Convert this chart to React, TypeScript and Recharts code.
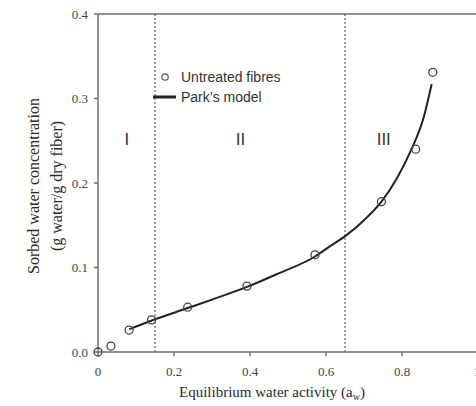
import React from 'react';
import {
  ComposedChart,
  Line,
  Scatter,
  XAxis,
  YAxis,
  ReferenceLine,
  ReferenceDot,
  Legend
} from 'recharts';

// Measured sorption data (untreated fibres)
const measuredActivity = [0, 0.034, 0.082, 0.141, 0.236, 0.392, 0.571, 0.746, 0.836, 0.881];
const measuredSorption = [0, 0.007, 0.026, 0.038, 0.053, 0.078, 0.115, 0.178, 0.24, 0.331];

// Park's model curve
const modelActivity = [0.082, 0.14, 0.236, 0.3, 0.392, 0.47, 0.571, 0.61, 0.653, 0.7, 0.746, 0.786, 0.825, 0.856, 0.878];
const modelSorption = [0.027, 0.037, 0.052, 0.062, 0.077, 0.092, 0.113, 0.125, 0.138, 0.156, 0.178, 0.205, 0.24, 0.276, 0.317];

// Region boundaries and labels
const regionBounds = [0.15, 0.65];
const regionNames = ['I', 'II', 'III'];
const regionLabelX = [0.076, 0.375, 0.752];
const regionLabelY = 0.252;

const xTicks = [0, 0.2, 0.4, 0.6, 0.8, 1];
const yTicks = [0, 0.1, 0.2, 0.3, 0.4];

const measured = measuredActivity.map((x, i) => ({ x, y: measuredSorption[i] }));
const model = modelActivity.map((x, i) => ({ x, y: modelSorption[i] }));

const serif = '"Liberation Serif", "Times New Roman", serif';
const sans = '"Liberation Sans", Arial, sans-serif';
const axisColor = '#6e6e6e';

const XTitle = ({ viewBox }: any) => (
  <text
    x={viewBox.x + viewBox.width / 2 - 16}
    y={viewBox.y + 45}
    textAnchor="middle"
    fontFamily={serif}
    fontSize={15}
    fill="#2a2a2a"
  >
    Equilibrium water activity (a
    <tspan fontSize={10} dy={3}>w</tspan>
    <tspan dy={-3}>)</tspan>
  </text>
);

const YTitle = ({ viewBox }: any) => {
  const cy = viewBox.y + viewBox.height / 2 + 3;
  return (
    <g fontFamily={serif} fontSize={16} fill="#2a2a2a">
      <text transform={`translate(33 ${cy}) rotate(-90)`} textAnchor="middle" dy="0.35em">
        Sorbed water concentration
      </text>
      <text transform={`translate(56 ${cy}) rotate(-90)`} textAnchor="middle" dy="0.35em">
        (g water/g dry fiber)
      </text>
    </g>
  );
};

const LegendBox = () => (
  <svg width={140} height={36} style={{ display: 'block' }}>
    <circle cx={15} cy={9} r={3.2} fill="none" stroke="#555" strokeWidth={1.2} />
    <text x={31} y={9} dy="0.35em" fontFamily={sans} fontSize={14} fill="#333">
      Untreated fibres
    </text>
    <line x1={3} x2={26} y1={29} y2={29} stroke="#222" strokeWidth={3} />
    <text x={31} y={29} dy="0.35em" fontFamily={sans} fontSize={14} fill="#333">
      Park’s model
    </text>
  </svg>
);

const OpenCircle = ({ cx, cy }: any) => (
  <circle cx={cx} cy={cy} r={4} fill="none" stroke="#444" strokeWidth={1.3} />
);

export default function App() {
  return (
    <div
      style={{
        position: 'absolute',
        left: 0,
        top: 0,
        width: 476,
        height: 406,
        overflow: 'hidden',
        background: '#fff'
      }}
    >
      <ComposedChart width={480} height={406} margin={{ top: 14, right: 2, bottom: 0, left: 0 }}>
        <XAxis
          type="number"
          dataKey="x"
          domain={[0, 1]}
          ticks={xTicks}
          tickFormatter={(v: number) => (v === 0 || v === 1 ? String(v) : v.toFixed(1))}
          height={54}
          tickSize={4}
          tickMargin={11}
          stroke={axisColor}
          strokeWidth={1.5}
          tick={{ fontFamily: serif, fontSize: 13, fill: '#444' }}
          label={<XTitle />}
        />
        <YAxis
          type="number"
          dataKey="y"
          domain={[0, 0.4]}
          ticks={yTicks}
          tickFormatter={(v: number) => v.toFixed(1)}
          width={98}
          tickSize={4}
          tickMargin={6}
          stroke={axisColor}
          strokeWidth={1.5}
          tick={{ fontFamily: serif, fontSize: 13, fill: '#444' }}
          label={<YTitle />}
        />
        <ReferenceLine y={0.4} stroke={axisColor} strokeWidth={1.5} />
        {regionBounds.map((b) => (
          <ReferenceLine key={b} x={b} stroke="#444" strokeWidth={1} strokeDasharray="2 2" />
        ))}
        {regionNames.map((name, i) => (
          <ReferenceDot
            key={name}
            x={regionLabelX[i]}
            y={regionLabelY}
            r={0}
            stroke="none"
            fill="none"
            label={{ value: name, position: 'center', fontFamily: sans, fontSize: 17, fill: '#333' }}
          />
        ))}
        <Line
          data={model}
          dataKey="y"
          type="monotone"
          stroke="#222"
          strokeWidth={2}
          dot={false}
          activeDot={false}
          isAnimationActive={false}
        />
        <Scatter data={measured} dataKey="y" shape={<OpenCircle />} isAnimationActive={false} />
        <Legend
          layout="vertical"
          align="center"
          verticalAlign="middle"
          content={<LegendBox />}
          wrapperStyle={{ left: 150, top: 68, width: 140 }}
        />
      </ComposedChart>
    </div>
  );
}
